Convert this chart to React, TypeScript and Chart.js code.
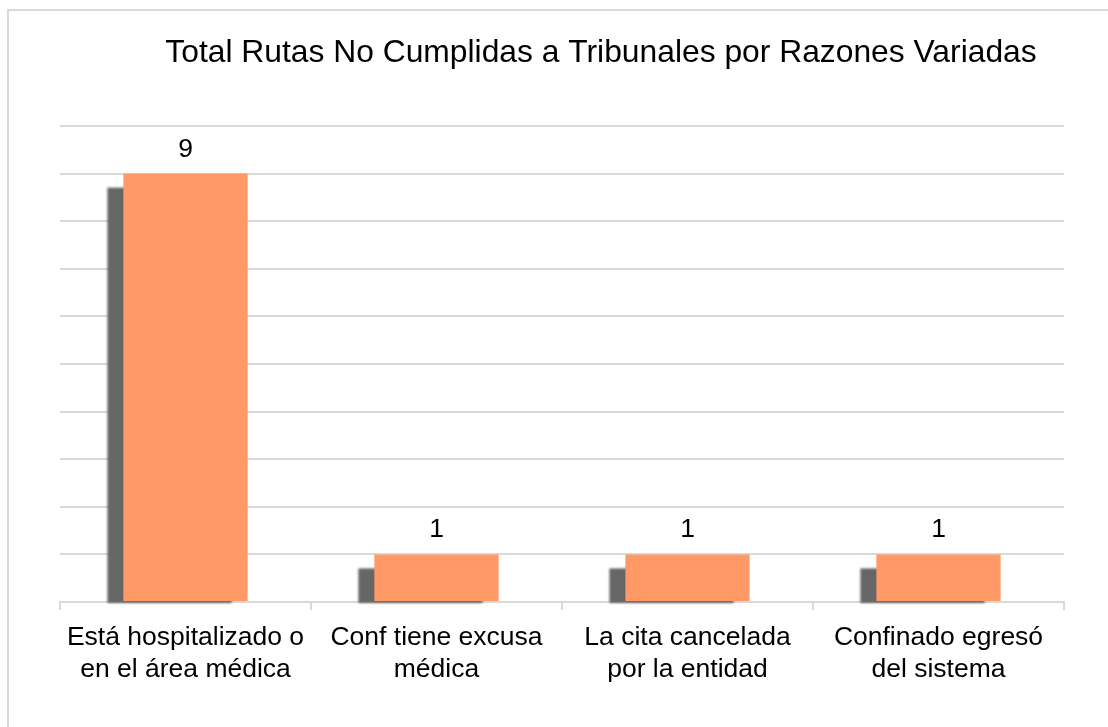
import React, { useEffect, useRef } from "react";
import { Chart, registerables } from "chart.js";

Chart.register(...registerables);

const chartTitle = "Total Rutas No Cumplidas a Tribunales por Razones Variadas";
const categories: string[][] = [
  ["Está hospitalizado o", "en el área médica"],
  ["Conf tiene excusa", "médica"],
  ["La cita cancelada", "por la entidad"],
  ["Confinado egresó", "del sistema"],
];
const values: number[] = [9, 1, 1, 1];
const yMin = 0;
const yMax = 10;
const yStep = 1;

const FONT = '"Liberation Sans", Arial, sans-serif';

const shadowPlugin = {
  id: "barShadow",
  beforeDatasetsDraw(chart: any) {
    const ctx = chart.ctx;
    const meta = chart.getDatasetMeta(0);
    ctx.save();
    ctx.fillStyle = "#666666";
    ctx.filter = "blur(1px)";
    meta.data.forEach((bar: any) => {
      const { x, y, base, width } = bar.getProps(["x", "y", "base", "width"], true);
      const left = x - width / 2 - 16;
      const top = y + 14;
      ctx.fillRect(left, top, width, base + 2 - top);
    });
    ctx.restore();
  },
};

const labelPlugin = {
  id: "valueLabels",
  afterDatasetsDraw(chart: any) {
    const ctx = chart.ctx;
    const meta = chart.getDatasetMeta(0);
    ctx.save();
    ctx.fillStyle = "#000000";
    ctx.font = `26.5px ${FONT}`;
    ctx.textAlign = "center";
    ctx.textBaseline = "alphabetic";
    meta.data.forEach((bar: any, i: number) => {
      const { x, y } = bar.getProps(["x", "y"], true);
      ctx.fillText(String(values[i]), x, y - 17);
    });
    ctx.restore();
  },
};

const titlePlugin = {
  id: "offsetTitle",
  afterDraw(chart: any) {
    const ctx = chart.ctx;
    const area = chart.chartArea;
    ctx.save();
    ctx.fillStyle = "#000000";
    ctx.font = `31.8px ${FONT}`;
    ctx.textAlign = "center";
    ctx.textBaseline = "alphabetic";
    ctx.fillText(chartTitle, (area.left + area.right) / 2 + 39, 62);
    ctx.restore();
  },
};

export default function App() {
  const canvasRef = useRef<HTMLCanvasElement | null>(null);

  useEffect(() => {
    if (!canvasRef.current) return;
    const chart = new Chart(canvasRef.current, {
      type: "bar",
      data: {
        labels: categories,
        datasets: [
          {
            data: values,
            backgroundColor: "#FF9966",
            borderWidth: 0,
            categoryPercentage: 1,
            barPercentage: 0.495,
          },
        ],
      },
      options: {
        responsive: false,
        animation: false,
        devicePixelRatio: 1,
        layout: { padding: { left: 60, right: 44, top: 126, bottom: 0 } },
        plugins: {
          legend: { display: false },
          title: { display: false },
          tooltip: { enabled: false },
        },
        scales: {
          x: {
            grid: {
              offset: true,
              drawOnChartArea: false,
              drawTicks: true,
              tickLength: 8,
              color: "#d9d9d9",
              lineWidth: 2,
            },
            border: { display: true, color: "#d9d9d9", width: 2 },
            ticks: {
              font: { size: 26.5, family: FONT, lineHeight: 1.21 },
              color: "#000000",
              padding: 12,
              maxRotation: 0,
              autoSkip: false,
            },
            afterFit: (s: any) => {
              s.height = 125;
            },
          },
          y: {
            min: yMin,
            max: yMax,
            ticks: { display: false, stepSize: yStep },
            grid: { drawTicks: false, color: "#d9d9d9", lineWidth: 2 },
            border: { display: false },
            afterFit: (s: any) => {
              s.width = 0;
            },
          },
        },
      },
      plugins: [shadowPlugin, labelPlugin, titlePlugin],
    });
    return () => chart.destroy();
  }, []);

  return (
    <div style={{ position: "fixed", left: 0, top: 0, width: 1108, height: 727, background: "#ffffff" }}>
      <div
        style={{
          position: "absolute",
          left: 7,
          top: 9,
          right: -10,
          bottom: -10,
          borderLeft: "2px solid #d9d9d9",
          borderTop: "2px solid #d9d9d9",
        }}
      />
      <canvas ref={canvasRef} width={1108} height={727} style={{ position: "absolute", left: 0, top: 0 }} />
    </div>
  );
}
